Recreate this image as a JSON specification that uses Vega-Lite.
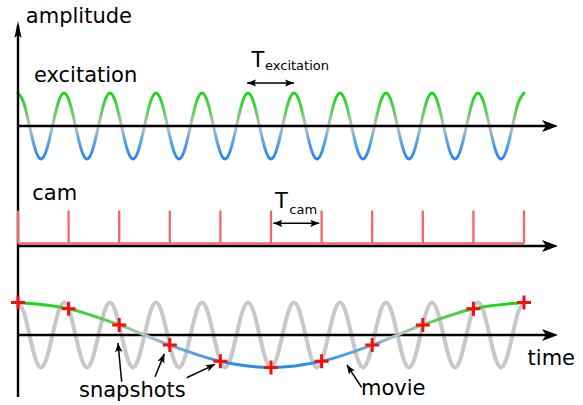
{
  "$schema": "https://vega.github.io/schema/vega-lite/v6.json",
  "padding": 0,
  "spacing": 0,
  "bounds": "flush",
  "config": {"view": {"stroke": null}, "text": {"font": "DejaVu Sans", "color": "black"}},
  "datasets": {
    "wave": [
      {"t":0,"a":1},{"t":0.125,"a":0.7071},{"t":0.25,"a":0},{"t":0.375,"a":-0.7071},{"t":0.5,"a":-1},{"t":0.625,"a":-0.7071},{"t":0.75,"a":0},{"t":0.875,"a":0.7071},
      {"t":1,"a":1},{"t":1.125,"a":0.7071},{"t":1.25,"a":0},{"t":1.375,"a":-0.7071},{"t":1.5,"a":-1},{"t":1.625,"a":-0.7071},{"t":1.75,"a":0},{"t":1.875,"a":0.7071},
      {"t":2,"a":1},{"t":2.125,"a":0.7071},{"t":2.25,"a":0},{"t":2.375,"a":-0.7071},{"t":2.5,"a":-1},{"t":2.625,"a":-0.7071},{"t":2.75,"a":0},{"t":2.875,"a":0.7071},
      {"t":3,"a":1},{"t":3.125,"a":0.7071},{"t":3.25,"a":0},{"t":3.375,"a":-0.7071},{"t":3.5,"a":-1},{"t":3.625,"a":-0.7071},{"t":3.75,"a":0},{"t":3.875,"a":0.7071},
      {"t":4,"a":1},{"t":4.125,"a":0.7071},{"t":4.25,"a":0},{"t":4.375,"a":-0.7071},{"t":4.5,"a":-1},{"t":4.625,"a":-0.7071},{"t":4.75,"a":0},{"t":4.875,"a":0.7071},
      {"t":5,"a":1},{"t":5.125,"a":0.7071},{"t":5.25,"a":0},{"t":5.375,"a":-0.7071},{"t":5.5,"a":-1},{"t":5.625,"a":-0.7071},{"t":5.75,"a":0},{"t":5.875,"a":0.7071},
      {"t":6,"a":1},{"t":6.125,"a":0.7071},{"t":6.25,"a":0},{"t":6.375,"a":-0.7071},{"t":6.5,"a":-1},{"t":6.625,"a":-0.7071},{"t":6.75,"a":0},{"t":6.875,"a":0.7071},
      {"t":7,"a":1},{"t":7.125,"a":0.7071},{"t":7.25,"a":0},{"t":7.375,"a":-0.7071},{"t":7.5,"a":-1},{"t":7.625,"a":-0.7071},{"t":7.75,"a":0},{"t":7.875,"a":0.7071},
      {"t":8,"a":1},{"t":8.125,"a":0.7071},{"t":8.25,"a":0},{"t":8.375,"a":-0.7071},{"t":8.5,"a":-1},{"t":8.625,"a":-0.7071},{"t":8.75,"a":0},{"t":8.875,"a":0.7071},
      {"t":9,"a":1},{"t":9.125,"a":0.7071},{"t":9.25,"a":0},{"t":9.375,"a":-0.7071},{"t":9.5,"a":-1},{"t":9.625,"a":-0.7071},{"t":9.75,"a":0},{"t":9.875,"a":0.7071},
      {"t":10,"a":1},{"t":10.125,"a":0.7071},{"t":10.25,"a":0},{"t":10.375,"a":-0.7071},{"t":10.5,"a":-1},{"t":10.625,"a":-0.7071},{"t":10.75,"a":0},{"t":10.875,"a":0.7071},
      {"t":11,"a":1}
    ],
    "snap": [
      {"t":0,"a":1},{"t":1.1,"a":0.809},{"t":2.2,"a":0.309},{"t":3.3,"a":-0.309},{"t":4.4,"a":-0.809},{"t":5.5,"a":-1},
      {"t":6.6,"a":-0.809},{"t":7.7,"a":-0.309},{"t":8.8,"a":0.309},{"t":9.9,"a":0.809},{"t":11,"a":1}
    ]
  },
  "vconcat": [
    {
      "width": 583,
      "height": 185,
      "encoding": {
        "x": {"field": "t", "type": "quantitative", "scale": {"domain": [-0.3913, 12.2826], "nice": false, "zero": false}, "axis": null},
        "y": {"field": "a", "type": "quantitative", "scale": {"domain": [-1.7879, 3.8182], "nice": false, "zero": false}, "axis": null}
      },
      "layer": [
        {"data": {"name": "wave"}, "mark": {"type": "line", "interpolate": "natural", "strokeWidth": 3, "strokeCap": "round",
          "stroke": {"gradient": "linear", "x1": 0, "y1": 0, "x2": 0, "y2": 1, "stops": [
            {"offset": 0, "color": "#18d818"}, {"offset": 0.3, "color": "#66cc66"}, {"offset": 0.5, "color": "#b9c5c0"}, {"offset": 0.7, "color": "#6aa6e0"}, {"offset": 1, "color": "#2388ec"}]}}},
        {"data": {"values": [{"t": 0, "a": 0, "t2": 11.6}]}, "mark": {"type": "rule", "color": "black", "strokeWidth": 2.4}, "encoding": {"x2": {"field": "t2"}}},
        {"data": {"values": [{"t": 11.739, "a": 0}]}, "mark": {"type": "point", "shape": "M0,0L-2,-0.75L-1.5,0L-2,0.75Z", "size": 256, "filled": true, "opacity": 1, "color": "black", "strokeWidth": 0}},
        {"data": {"values": [{"t": 0, "a": -1.7879, "a2": 3.05}]}, "mark": {"type": "rule", "color": "black", "strokeWidth": 2.4}, "encoding": {"y2": {"field": "a2"}}},
        {"data": {"values": [{"t": 0, "a": 3.182}]}, "mark": {"type": "point", "shape": "M0,0L-2,-0.42L-1.6,0L-2,0.42Z", "size": 289, "angle": 270, "filled": true, "opacity": 1, "color": "black", "strokeWidth": 0}},
        {"data": {"values": [{"t": 0.17, "a": 3.112, "label": "amplitude"}, {"t": 0.346, "a": 1.348, "label": "excitation"}, {"t": 5.076, "a": 1.797, "label": "T"}]},
          "mark": {"type": "text", "align": "left", "baseline": "alphabetic", "fontSize": 21}, "encoding": {"text": {"field": "label"}}},
        {"data": {"values": [{"t": 5.37, "a": 1.697, "label": "excitation"}]},
          "mark": {"type": "text", "align": "left", "baseline": "alphabetic", "fontSize": 13}, "encoding": {"text": {"field": "label"}}},
        {"data": {"values": [{"t": 4.98, "a": 1.303, "t2": 6.0}]}, "mark": {"type": "rule", "color": "black", "strokeWidth": 1.6}, "encoding": {"x2": {"field": "t2"}}},
        {"data": {"values": [{"t": 6.0, "a": 1.303}]}, "mark": {"type": "point", "shape": "M0,0L-2,-0.8L-1.6,0L-2,0.8Z", "size": 81, "angle": 0, "filled": true, "opacity": 1, "color": "black", "strokeWidth": 0}},
        {"data": {"values": [{"t": 4.98, "a": 1.303}]}, "mark": {"type": "point", "shape": "M0,0L-2,-0.8L-1.6,0L-2,0.8Z", "size": 81, "angle": 180, "filled": true, "opacity": 1, "color": "black", "strokeWidth": 0}}
      ]
    },
    {
      "width": 583,
      "height": 95,
      "encoding": {
        "x": {"field": "t", "type": "quantitative", "scale": {"domain": [-0.3913, 12.2826], "nice": false, "zero": false}, "axis": null},
        "y": {"field": "a", "type": "quantitative", "scale": {"domain": [-1.0303, 1.8485], "nice": false, "zero": false}, "axis": null}
      },
      "layer": [
        {"data": {"values": [{"t": 0, "a": -1.0303, "a2": 1.8485}]}, "mark": {"type": "rule", "color": "black", "strokeWidth": 2.4}, "encoding": {"y2": {"field": "a2"}}},
        {"data": {"values": [{"t": 0, "a": 0, "t2": 11.6}]}, "mark": {"type": "rule", "color": "black", "strokeWidth": 2.4}, "encoding": {"x2": {"field": "t2"}}},
        {"data": {"values": [{"t": 11.739, "a": 0}]}, "mark": {"type": "point", "shape": "M0,0L-2,-0.75L-1.5,0L-2,0.75Z", "size": 256, "filled": true, "opacity": 1, "color": "black", "strokeWidth": 0}},
        {"data": {"values": [{"t": 0, "a": 0, "t2": 11}]}, "mark": {"type": "rule", "color": "#f76464", "strokeWidth": 2.5, "yOffset": -2.5}, "encoding": {"x2": {"field": "t2"}}},
        {"data": {"name": "snap"}, "mark": {"type": "rule", "color": "#f76464", "strokeWidth": 2.3, "yOffset": -2.5, "y2Offset": -2.5},
          "encoding": {"y": {"datum": 0}, "y2": {"datum": 1}}},
        {"data": {"values": [{"t": 0.309, "a": 1.394, "label": "cam"}, {"t": 5.587, "a": 1.142, "label": "T"}]},
          "mark": {"type": "text", "align": "left", "baseline": "alphabetic", "fontSize": 21}, "encoding": {"text": {"field": "label"}}},
        {"data": {"values": [{"t": 5.898, "a": 0.97, "label": "cam"}]},
          "mark": {"type": "text", "align": "left", "baseline": "alphabetic", "fontSize": 13}, "encoding": {"text": {"field": "label"}}},
        {"data": {"values": [{"t": 5.55, "a": 0.688, "t2": 6.55}]}, "mark": {"type": "rule", "color": "black", "strokeWidth": 1.6}, "encoding": {"x2": {"field": "t2"}}},
        {"data": {"values": [{"t": 6.55, "a": 0.688}]}, "mark": {"type": "point", "shape": "M0,0L-2,-0.8L-1.6,0L-2,0.8Z", "size": 81, "angle": 0, "filled": true, "opacity": 1, "color": "black", "strokeWidth": 0}},
        {"data": {"values": [{"t": 5.55, "a": 0.688}]}, "mark": {"type": "point", "shape": "M0,0L-2,-0.8L-1.6,0L-2,0.8Z", "size": 81, "angle": 180, "filled": true, "opacity": 1, "color": "black", "strokeWidth": 0}}
      ]
    },
    {
      "width": 583,
      "height": 125,
      "encoding": {
        "x": {"field": "t", "type": "quantitative", "scale": {"domain": [-0.3913, 12.2826], "nice": false, "zero": false}, "axis": null},
        "y": {"field": "a", "type": "quantitative", "scale": {"domain": [-2.1538, 1.6923], "nice": false, "zero": false}, "axis": null}
      },
      "layer": [
        {"data": {"name": "wave"}, "mark": {"type": "line", "interpolate": "natural", "strokeWidth": 4, "strokeCap": "round", "stroke": "#c8c8c8"}},
        {"data": {"values": [{"t": 0, "a": 1.6923, "a2": -1.908}]}, "mark": {"type": "rule", "color": "black", "strokeWidth": 2.4}, "encoding": {"y2": {"field": "a2"}}},
        {"data": {"values": [{"t": 0, "a": 0, "t2": 11.6}]}, "mark": {"type": "rule", "color": "black", "strokeWidth": 2.4}, "encoding": {"x2": {"field": "t2"}}},
        {"data": {"values": [{"t": 11.739, "a": 0}]}, "mark": {"type": "point", "shape": "M0,0L-2,-0.75L-1.5,0L-2,0.75Z", "size": 256, "filled": true, "opacity": 1, "color": "black", "strokeWidth": 0}},
        {"data": {"name": "snap"}, "mark": {"type": "line", "interpolate": "monotone", "strokeWidth": 3, "strokeCap": "round",
          "stroke": {"gradient": "linear", "x1": 0, "y1": 0, "x2": 0, "y2": 1, "stops": [
            {"offset": 0, "color": "#18d818"}, {"offset": 0.3, "color": "#66cc66"}, {"offset": 0.5, "color": "#b9c5c0"}, {"offset": 0.7, "color": "#6aa6e0"}, {"offset": 1, "color": "#2388ec"}]}}},
        {"data": {"name": "snap"}, "mark": {"type": "point", "shape": "M-1,0H1M0,-1V1", "size": 196, "filled": false, "opacity": 1, "color": "#f01010", "strokeWidth": 3}},
        {"data": {"values": [{"t": 11.078, "a": -0.923, "label": "time"}, {"t": 1.326, "a": -1.898, "label": "snapshots"}, {"t": 7.457, "a": -1.846, "label": "movie"}]},
          "mark": {"type": "text", "align": "left", "baseline": "alphabetic", "fontSize": 21}, "encoding": {"text": {"field": "label"}}},
        {"data": {"values": [
            {"t": 2.254, "a": -1.437, "t2": 2.174, "a2": -0.246},
            {"t": 2.98, "a": -1.283, "t2": 3.18, "a2": -0.58},
            {"t": 3.667, "a": -1.314, "t2": 4.283, "a2": -0.903},
            {"t": 7.47, "a": -1.609, "t2": 7.15, "a2": -0.923}]},
          "mark": {"type": "rule", "color": "black", "strokeWidth": 1.5}, "encoding": {"x2": {"field": "t2"}, "y2": {"field": "a2"}}},
        {"data": {"values": [{"t": 2.174, "a": -0.246}]}, "mark": {"type": "point", "shape": "M0,0L-2,-0.8L-1.6,0L-2,0.8Z", "size": 81, "angle": 265, "filled": true, "opacity": 1, "color": "black", "strokeWidth": 0}},
        {"data": {"values": [{"t": 3.18, "a": -0.58}]}, "mark": {"type": "point", "shape": "M0,0L-2,-0.8L-1.6,0L-2,0.8Z", "size": 81, "angle": 291.7, "filled": true, "opacity": 1, "color": "black", "strokeWidth": 0}},
        {"data": {"values": [{"t": 4.283, "a": -0.903}]}, "mark": {"type": "point", "shape": "M0,0L-2,-0.8L-1.6,0L-2,0.8Z", "size": 81, "angle": 334.7, "filled": true, "opacity": 1, "color": "black", "strokeWidth": 0}},
        {"data": {"values": [{"t": 7.15, "a": -0.923}]}, "mark": {"type": "point", "shape": "M0,0L-2,-0.8L-1.6,0L-2,0.8Z", "size": 81, "angle": 236.1, "filled": true, "opacity": 1, "color": "black", "strokeWidth": 0}}
      ]
    }
  ]
}
